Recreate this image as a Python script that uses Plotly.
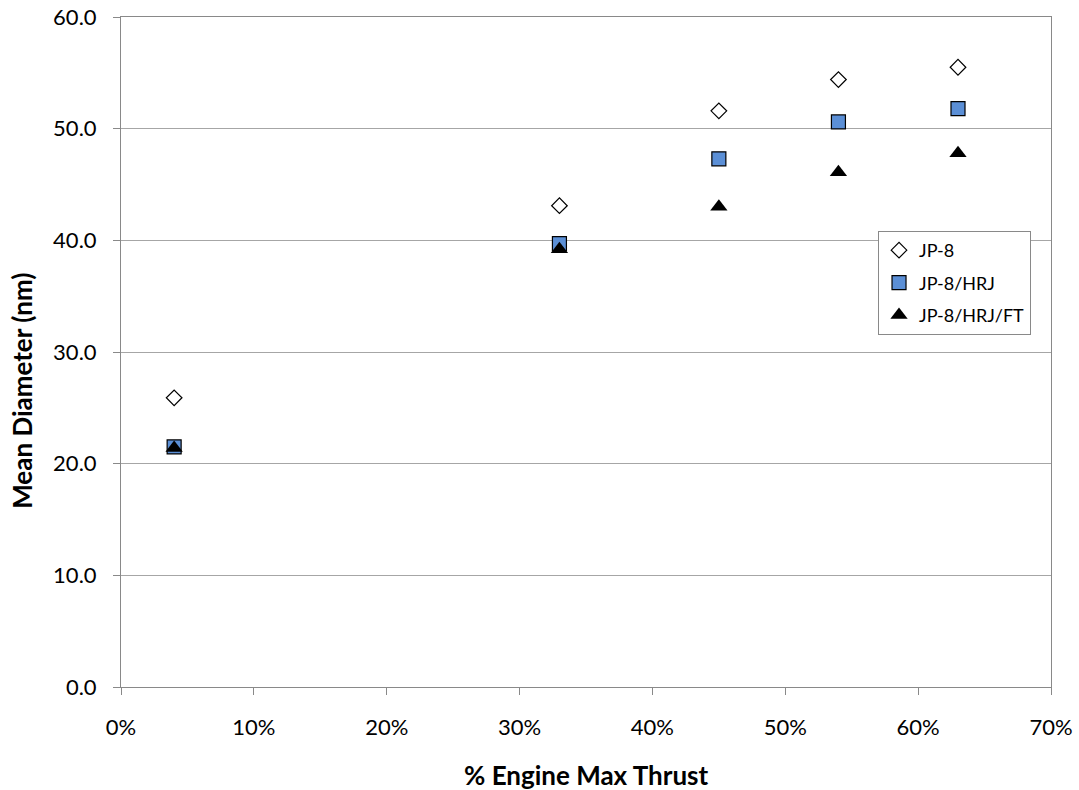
import plotly.graph_objects as go

# Engine thrust settings (fraction of max thrust)
thrust = [0.04, 0.33, 0.45, 0.54, 0.63]

# Mean particle diameter (nm) for each fuel blend
jp8 = [25.9, 43.1, 51.6, 54.4, 55.5]
jp8_hrj = [21.5, 39.7, 47.3, 50.6, 51.8]
jp8_hrj_ft = [21.4, 39.2, 43.0, 46.1, 47.8]

font_family = "Lato, 'Open Sans', sans-serif"
axis_grey = "#898989"

fig = go.Figure()
fig.add_trace(go.Scatter(
    x=thrust, y=jp8, mode="markers", name="JP-8", legendgroup="a",
    marker=dict(symbol="diamond", size=12, color="white",
                line=dict(color="black", width=1.2)),
))
fig.add_trace(go.Scatter(
    x=thrust, y=jp8_hrj, mode="markers", name="JP-8/HRJ", legendgroup="b",
    marker=dict(symbol="square", size=14, color="#5B8FD6",
                line=dict(color="black", width=1.2)),
))
fig.add_trace(go.Scatter(
    x=thrust, y=jp8_hrj_ft, mode="markers", name="JP-8/HRJ/FT", legendgroup="c",
    marker=dict(symbol="triangle-up", size=15, color="black",
                line=dict(color="black", width=0)),
))

fig.update_layout(
    width=1079, height=790,
    margin=dict(l=121, r=28, t=17, b=103),
    paper_bgcolor="white", plot_bgcolor="white",
    font=dict(family=font_family, size=22, color="black"),
    showlegend=True,
    legend=dict(
        x=0.814, y=0.6806, xanchor="left", yanchor="top",
        bgcolor="white", bordercolor=axis_grey, borderwidth=1,
        font=dict(size=18), traceorder="grouped", tracegroupgap=6,
        itemwidth=30,
    ),
    xaxis=dict(
        range=[0, 0.70], dtick=0.10, tickformat=".0%",
        showgrid=False, zeroline=False, automargin=False,
        showline=True, linecolor=axis_grey, linewidth=1, mirror=True,
        ticks="outside", ticklen=7, tickcolor=axis_grey,
        ticklabelstandoff=14,
    ),
    yaxis=dict(
        range=[0, 60], dtick=10, tickformat=".1f",
        showgrid=True, gridcolor="#a6a6a6", gridwidth=1, zeroline=False,
        automargin=False,
        showline=True, linecolor=axis_grey, linewidth=1, mirror=True,
        ticks="outside", ticklen=7, tickcolor=axis_grey,
        ticklabelstandoff=12,
    ),
    annotations=[
        dict(text="<b>% Engine Max Thrust</b>", xref="paper", yref="paper",
             x=0.5, y=-0.131, xanchor="center", yanchor="middle",
             showarrow=False, font=dict(size=26)),
        dict(text="<b>Mean Diameter (nm)</b>", xref="paper", yref="paper",
             x=-0.1065, y=0.442, xanchor="center", yanchor="middle",
             textangle=-90, showarrow=False, font=dict(size=26)),
    ],
)

fig.write_html("out.html")
